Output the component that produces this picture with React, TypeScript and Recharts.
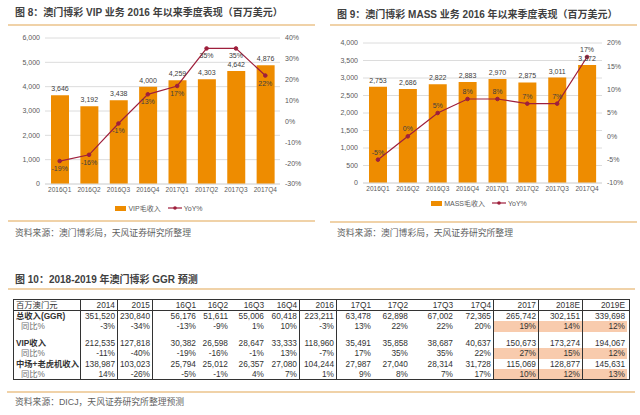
import React from 'react';
import { ComposedChart, Bar, Line, XAxis, YAxis, CartesianGrid, LabelList, Legend } from 'recharts';

const quarters = ['2016Q1', '2016Q2', '2016Q3', '2016Q4', '2017Q1', '2017Q2', '2017Q3', '2017Q4'];
const vipRevenue = [3646, 3192, 3438, 4000, 4259, 4303, 4642, 4876];
const vipYoy = [-19, -16, -1, 13, 17, 35, 35, 22];
const massRevenue = [2753, 2686, 2822, 2883, 2970, 2875, 3011, 3372];
const massYoy = [-5, 0, 5, 8, 8, 7, 7, 17];

const vipLeftTicks = [0, 1000, 2000, 3000, 4000, 5000, 6000];
const vipRightTicks = [-30, -20, -10, 0, 10, 20, 30, 40];
const massLeftTicks = [0, 500, 1000, 1500, 2000, 2500, 3000, 3500, 4000];
const massRightTicks = [-10, -5, 0, 5, 10, 15, 20];

const tableHeader = ['百万澳门元', '2014', '2015', '16Q1', '16Q2', '16Q3', '16Q4', '2016', '17Q1', '17Q2', '17Q3', '17Q4', '2017', '2018E', '2019E'];
const ggrValues = ['351,520', '230,840', '56,176', '51,611', '55,006', '60,418', '223,211', '63,478', '62,898', '67,002', '72,365', '265,742', '302,151', '339,698'];
const ggrYoy = ['-3%', '-34%', '-13%', '-9%', '1%', '10%', '-3%', '13%', '22%', '22%', '20%', '19%', '14%', '12%'];
const vipValues = ['212,535', '127,818', '30,382', '26,598', '28,647', '33,333', '118,960', '35,491', '35,858', '38,687', '40,637', '150,673', '173,274', '194,067'];
const vipYoyRow = ['-11%', '-40%', '-19%', '-16%', '-1%', '13%', '-7%', '17%', '35%', '35%', '22%', '27%', '15%', '12%'];
const massValues = ['138,987', '103,023', '25,794', '25,012', '26,357', '27,080', '104,244', '27,987', '27,040', '28,314', '31,728', '115,069', '128,877', '145,631'];
const massYoyRow = ['14%', '-26%', '-5%', '-1%', '4%', '7%', '1%', '9%', '8%', '7%', '17%', '10%', '12%', '13%'];

const BAR = '#EE8C00';
const LINE = '#9E1F3C';
const GRID = '#DCDCDC';
const TICK = '#595959';
const RULE = '#F0D2A8';
const HILITE = '#F8CBAD';
const FONT = "'Liberation Sans', 'Noto Sans CJK SC', sans-serif";

const vipData = quarters.map((q, i) => ({ q, rev: vipRevenue[i], yoy: vipYoy[i] }));
const massData = quarters.map((q, i) => ({ q, rev: massRevenue[i], yoy: massYoy[i] }));

const colWidths = [67, 37, 35, 45, 32, 36, 34, 37, 36, 37, 45, 39, 45, 44, 44];
const rightBorderCols = [0, 1, 2, 6, 7, 11, 12, 13];
const hiliteCols = [12, 13, 14];

const fmt = (v: number) => v.toLocaleString('en-US');
const pct = (v: number) => `${v}%`;

const legendContent = (props: any) => {
  const payload = props.payload || [];
  return (
    <div style={{ display: 'flex', justifyContent: 'center', alignItems: 'center', fontSize: 7, color: TICK, fontFamily: FONT, lineHeight: '9px' }}>
      {payload.map((e: any, i: number) => (
        <div key={i} style={{ display: 'flex', alignItems: 'center', marginRight: 7 }}>
          {e.type === 'rect' ? (
            <span style={{ display: 'inline-block', width: 11, height: 5, background: e.color, marginRight: 2 }} />
          ) : (
            <svg width={14} height={6} style={{ marginRight: 2 }}>
              <line x1={0} y1={3} x2={14} y2={3} stroke={e.color} strokeWidth={1.2} />
              <circle cx={7} cy={3} r={1.8} fill={e.color} />
            </svg>
          )}
          <span>{e.value}</span>
        </div>
      ))}
    </div>
  );
};

const tickStyle = { fontSize: 7, fill: TICK, fontFamily: FONT };

function ComboChart(props: {
  data: any[]; barName: string; leftTicks: number[]; rightTicks: number[];
  top: number; leftW: number; rightW: number; xH: number; labelPos: 'top' | 'bottom'; legendTop: number;
}) {
  const { data, barName, leftTicks, rightTicks, top, leftW, rightW, xH, labelPos, legendTop } = props;
  return (
    <ComposedChart width={320} height={215} data={data} margin={{ top, right: 0, bottom: 0, left: 0 }}>
      <CartesianGrid vertical={false} stroke={GRID} yAxisId="left" />
      <XAxis dataKey="q" interval={0} tickLine={false} tickSize={0} tickMargin={3} height={xH}
        axisLine={{ stroke: GRID }} tick={{ ...tickStyle, fontSize: 6.5 }} />
      <YAxis yAxisId="left" orientation="left" width={leftW} domain={[leftTicks[0], leftTicks[leftTicks.length - 1]]}
        ticks={leftTicks} interval={0} axisLine={false} tickLine={false} tickSize={0} tickMargin={5}
        tickFormatter={fmt} tick={tickStyle} />
      <YAxis yAxisId="right" orientation="right" width={rightW} domain={[rightTicks[0], rightTicks[rightTicks.length - 1]]}
        ticks={rightTicks} interval={0} axisLine={false} tickLine={false} tickSize={0} tickMargin={5}
        tickFormatter={pct} tick={tickStyle} />
      <Legend content={legendContent} layout="horizontal" verticalAlign="middle" align="center"
        wrapperStyle={{ top: legendTop, left: leftW, width: 320 - leftW - rightW }} />
      <Bar yAxisId="left" dataKey="rev" name={barName} fill={BAR} barSize={18} legendType="rect" isAnimationActive={false}>
        <LabelList dataKey="rev" position="top" offset={4} formatter={(v: any) => fmt(Number(v))}
          style={{ fontSize: 7, fill: '#404040', fontFamily: FONT }} />
      </Bar>
      <Line yAxisId="right" dataKey="yoy" name="YoY%" stroke={LINE} strokeWidth={1.2} legendType="line"
        dot={{ r: 1.8, fill: LINE, stroke: LINE, strokeWidth: 1 }} activeDot={false} isAnimationActive={false}>
        <LabelList dataKey="yoy" position={labelPos} offset={5} formatter={(v: any) => pct(Number(v))}
          style={{ fontSize: 7, fill: '#404040', fontFamily: FONT }} />
      </Line>
    </ComposedChart>
  );
}

const txt = (left: number, top: number, text: string, style: any = {}) => (
  <div style={{ position: 'absolute', left, top, lineHeight: '12px', whiteSpace: 'nowrap', ...style }}>{text}</div>
);
const rule = (left: number, top: number, width: number) => (
  <div style={{ position: 'absolute', left, top, width, height: 2, background: RULE }} />
);

const titleStyle = { fontSize: 10, fontWeight: 'bold', color: '#404040', fontFamily: FONT };
const sourceStyle = { fontSize: 8.8, color: '#606060', fontFamily: FONT };

function TableRow(props: { cells: string[]; h: number; kind: 'header' | 'main' | 'yoy' | 'spacer'; label?: string; last?: boolean }) {
  const { cells, h, kind, label } = props;
  const all = kind === 'spacer' ? colWidths.map(() => '') : [label || '', ...cells];
  return (
    <div style={{ display: 'flex', height: h, borderBottom: kind === 'header' ? '1px solid #333' : 'none' }}>
      {all.map((c, i) => {
        const isLabel = i === 0;
        const bg = kind === 'yoy' && hiliteCols.includes(i) ? HILITE : 'transparent';
        return (
          <div key={i} style={{
            width: colWidths[i], flex: 'none', boxSizing: 'border-box', height: h, lineHeight: `${h}px`,
            borderRight: rightBorderCols.includes(i) ? '1px solid #333' : 'none',
            textAlign: isLabel ? 'left' : 'right', paddingRight: isLabel ? 0 : 2,
            paddingLeft: isLabel ? (kind === 'yoy' ? 7 : 2) : 0,
            background: bg, whiteSpace: 'nowrap', overflow: 'hidden',
            fontSize: isLabel ? 8.3 : 8.3,
            fontWeight: isLabel && kind === 'main' ? 'bold' : 'normal',
            color: isLabel && kind === 'yoy' ? '#707070' : '#333',
            fontFamily: FONT,
          }}>{c}</div>
        );
      })}
    </div>
  );
}

export default function App() {
  return (
    <div style={{ position: 'fixed', left: 0, top: 0, width: 640, height: 415, background: '#fff', overflow: 'hidden', fontFamily: FONT }}>
      {txt(15, 7, '图 8：澳门博彩 VIP 业务 2016 年以来季度表现（百万美元）', titleStyle)}
      {rule(8, 24, 307)}
      <div style={{ position: 'absolute', left: 0, top: 0 }}>
        <ComboChart data={vipData} barName="VIP毛收入" leftTicks={vipLeftTicks} rightTicks={vipRightTicks}
          top={38} leftW={45} rightW={40} xH={31} labelPos="bottom" legendTop={203.5} />
      </div>
      {rule(8, 220, 307)}
      {txt(15, 227, '资料来源：澳门博彩局，天风证券研究所整理', sourceStyle)}

      {txt(337, 9, '图 9：澳门博彩 MASS 业务 2016 年以来季度表现（百万美元）', titleStyle)}
      {rule(330, 24, 307)}
      <div style={{ position: 'absolute', left: 320, top: 0 }}>
        <ComboChart data={massData} barName="MASS毛收入" leftTicks={massLeftTicks} rightTicks={massRightTicks}
          top={43} leftW={43} rightW={38} xH={32} labelPos="top" legendTop={198.5} />
      </div>
      {rule(330, 221, 307)}
      {txt(337, 227, '资料来源：澳门博彩局，天风证券研究所整理', sourceStyle)}

      {txt(15, 274, '图 10：2018-2019 年澳门博彩 GGR 预测', titleStyle)}
      {rule(8, 288, 627)}
      <div style={{ position: 'absolute', left: 13, top: 299, width: 615, border: '1px solid #333', boxSizing: 'content-box' }}>
        <TableRow kind="header" h={10} label={tableHeader[0]} cells={tableHeader.slice(1)} />
        <TableRow kind="main" h={10} label="总收入(GGR)" cells={ggrValues} />
        <TableRow kind="yoy" h={11} label="同比%" cells={ggrYoy} />
        <TableRow kind="spacer" h={6} cells={[]} />
        <TableRow kind="main" h={10} label="VIP收入" cells={vipValues} />
        <TableRow kind="yoy" h={11} label="同比%" cells={vipYoyRow} />
        <TableRow kind="main" h={10} label="中场+老虎机收入" cells={massValues} />
        <TableRow kind="yoy" h={10} label="同比%" cells={massYoyRow} />
      </div>
      {rule(7, 391, 628)}
      {txt(15, 396, '资料来源：DICJ，天风证券研究所整理预测', sourceStyle)}
    </div>
  );
}
